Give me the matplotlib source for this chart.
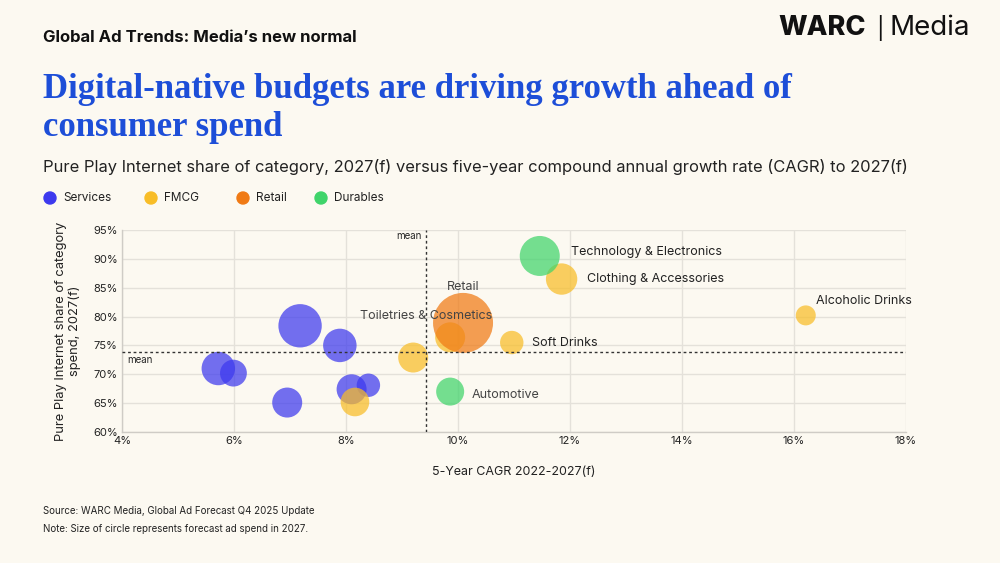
import matplotlib
matplotlib.use("Agg")
import matplotlib.pyplot as plt
import numpy as np
from matplotlib.ticker import FuncFormatter

# ---------------- data ----------------
categories = ["Services", "FMCG", "Retail", "Durables"]
cat_colors = ["#3d39ee", "#f8bd27", "#f07a14", "#3fd46a"]

# bubble points: (category index, CAGR %, share %, relative ad spend)
point_cat = [0, 0, 0, 0, 0, 0, 0,
             1, 1, 1, 1, 1, 1,
             2,
             3, 3]
cagr = [5.72, 5.99, 7.18, 7.89, 6.95, 8.10, 8.40,
        8.16, 9.20, 9.86, 11.85, 10.96, 16.21,
        10.09,
        9.86, 11.46]
share = [71.0, 70.2, 78.4, 75.0, 65.1, 67.4, 68.1,
         65.2, 72.9, 76.4, 86.5, 75.5, 80.2,
         78.9,
         67.0, 90.5]
ad_spend = [280, 180, 470, 280, 225, 225, 137,
            205, 225, 225, 246, 137, 100,
            900,
            196, 400]
point_labels = ["", "", "", "", "", "", "",
                "", "", "Toiletries & Cosmetics", "Clothing & Accessories", "Soft Drinks", "Alcoholic Drinks",
                "Retail",
                "Automotive", "Technology & Electronics"]

mean_cagr = 9.43
mean_share = 73.8

x_ticks = [4, 6, 8, 10, 12, 14, 16, 18]
y_ticks = [60, 65, 70, 75, 80, 85, 90, 95]

# ---------------- style ----------------
bg = "#fcf9f1"
SANS = ["Inter", "DejaVu Sans"]
plt.rcParams["font.family"] = SANS

fig = plt.figure(figsize=(10, 5.63), dpi=100, facecolor=bg)
ax = fig.add_axes([0.122, 0.2327, 0.784, 0.3588], facecolor=bg)

# bubbles
for i in range(len(cagr)):
    r_px = np.sqrt(ad_spend[i])
    s = (2 * r_px * 0.72) ** 2
    ax.scatter(cagr[i], share[i], s=s, color=cat_colors[point_cat[i]],
               alpha=0.72, edgecolors="none", zorder=3)

ax.set_xlim(x_ticks[0], x_ticks[-1])
ax.set_ylim(y_ticks[0], y_ticks[-1])
ax.set_xticks(x_ticks)
ax.set_yticks(y_ticks)
ax.xaxis.set_major_formatter(FuncFormatter(lambda v, p: f"{v:.0f}%"))
ax.yaxis.set_major_formatter(FuncFormatter(lambda v, p: f"{v:.0f}%"))
ax.tick_params(length=0, labelsize=8, colors="#222222", pad=3)
ax.grid(True, color="#e4e1da", linewidth=1, zorder=0)
for sp in ["top", "right"]:
    ax.spines[sp].set_visible(False)
for sp in ["left", "bottom"]:
    ax.spines[sp].set_color("#cfccc6")
    ax.spines[sp].set_linewidth(1)

# mean lines
ax.axvline(mean_cagr, color="#333333", linestyle=(0, (2, 2)), linewidth=1, zorder=4)
ax.axhline(mean_share, color="#333333", linestyle=(0, (2, 2)), linewidth=1, zorder=4)
ax.text(mean_cagr - 0.08, 94.0, "mean", ha="right", va="center", fontsize=7, color="#222222")
ax.text(4.1, 72.4, "mean", ha="left", va="center", fontsize=7, color="#222222")

# point labels (offsets in display pixels)
label_offsets = {
    "Toiletries & Cosmetics": (-24, 21, "center", "#444444"),
    "Retail": (0, 36, "center", "#444444"),
    "Automotive": (22, -3, "left", "#444444"),
    "Technology & Electronics": (31, 4, "left", "#222222"),
    "Clothing & Accessories": (25, 0, "left", "#222222"),
    "Alcoholic Drinks": (10, 14, "left", "#222222"),
    "Soft Drinks": (20, 0, "left", "#222222"),
}
for i, lab in enumerate(point_labels):
    if not lab:
        continue
    dx, dy, ha, col = label_offsets[lab]
    ax.annotate(lab, (cagr[i], share[i]), xytext=(dx * 0.72, dy * 0.72),
                textcoords="offset points", ha=ha, va="center",
                fontsize=9, color=col, zorder=6)

ax.set_xlabel("5-Year CAGR 2022-2027(f)", fontsize=9, color="#222222", labelpad=14)
ax.set_ylabel("Pure Play Internet share of category\nspend, 2027(f)", fontsize=9.3,
              color="#222222", labelpad=9, linespacing=1.1)

# ---------------- header ----------------
fig.text(0.043, 1 - 37 / 563, "Global Ad Trends: Media\u2019s new normal", fontsize=12,
         fontweight="bold", color="#111111", va="center", ha="left")
fig.text(0.778, 1 - 28 / 563, "WARC", fontsize=19.5, fontweight="heavy", color="#111111",
         va="center", ha="left")
fig.text(0.876, 1 - 28 / 563, "|", fontsize=16, color="#111111",
         va="center", ha="left")
fig.text(0.889, 1 - 28 / 563, "Media", fontsize=20, color="#111111",
         va="center", ha="left")

fig.text(0.043, 1 - 90 / 563, "Digital-native budgets are driving growth ahead of",
         fontsize=25, fontweight="bold", color="#1d4ed8", family=["Liberation Serif"],
         va="center", ha="left")
fig.text(0.043, 1 - 128 / 563, "consumer spend",
         fontsize=25, fontweight="bold", color="#1d4ed8", family=["Liberation Serif"],
         va="center", ha="left")
fig.text(0.043, 1 - 167 / 563,
         "Pure Play Internet share of category, 2027(f) versus five-year compound annual growth rate (CAGR) to 2027(f)",
         fontsize=11.9, color="#222222", va="center", ha="left")

# legend
leg_x = [0.050, 0.151, 0.243, 0.321]
for cx, name, col in zip(leg_x, categories, cat_colors):
    fig.text(cx + 0.013, 1 - 198 / 563, name, fontsize=8.5, color="#222222",
             va="center", ha="left")
    fig.patches.append(matplotlib.patches.Ellipse((cx, 1 - 198 / 563), 0.012, 0.012 * 1000 / 563,
                                                  transform=fig.transFigure, color=col,
                                                  figure=fig))

# footer
fig.text(0.043, 1 - 511 / 563, "Source: WARC Media, Global Ad Forecast Q4 2025 Update",
         fontsize=7, color="#222222", va="center", ha="left")
fig.text(0.043, 1 - 529 / 563, "Note: Size of circle represents forecast ad spend in 2027.",
         fontsize=7, color="#222222", va="center", ha="left")

fig.savefig("out.png", dpi=100, facecolor=bg)
